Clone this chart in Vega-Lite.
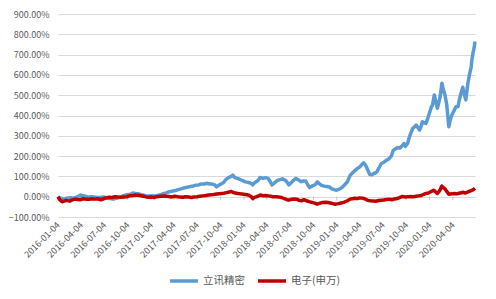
{
  "$schema": "https://vega.github.io/schema/vega-lite/v6.json",
  "width": 417,
  "height": 203,
  "autosize": "none",
  "padding": {"left": 58, "top": 14, "right": 21, "bottom": 82},
  "config": {
    "view": {"stroke": null},
    "font": "Noto Sans CJK SC",
    "axisX": {"labelOverlap": false, "labelFlush": false, "labelAngle": -45, "labelAlign": "right", "labelBaseline": "middle", "labelPadding": 6,
      "labelFontSize": 9, "labelColor": "#595959", "labelFont": "Noto Sans CJK SC", "domain": false, "ticks": false, "grid": false, "title": null, "format": "%Y-%m-%d"},
    "axisY": {"labelOverlap": false, "labelFlush": false, "grid": true, "gridColor": "#D9D9D9", "gridWidth": 1, "domain": false, "ticks": false,
      "labelPadding": 9, "labelFontSize": 9, "labelColor": "#595959", "labelFont": "Noto Sans CJK SC", "title": null, "format": ".2%"}
  },
  "resolve": {"axis": {"x": "independent", "y": "independent"}},
  "datasets": {
    "q": [{"d":"2016-01-04"},{"d":"2016-04-04"},{"d":"2016-07-04"},{"d":"2016-10-04"},{"d":"2017-01-04"},{"d":"2017-04-04"},{"d":"2017-07-04"},{"d":"2017-10-04"},{"d":"2018-01-04"},{"d":"2018-04-04"},{"d":"2018-07-04"},{"d":"2018-10-04"},{"d":"2019-01-04"},{"d":"2019-04-04"},{"d":"2019-07-04"},{"d":"2019-10-04"},{"d":"2020-01-04"},{"d":"2020-04-04"}],
    "s": [
{"d":"2016-01-04","s":"立讯精密","v":0},{"d":"2016-01-11","s":"立讯精密","v":-0.06},{"d":"2016-01-20","s":"立讯精密","v":-0.10},{"d":"2016-01-28","s":"立讯精密","v":-0.12},{"d":"2016-02-05","s":"立讯精密","v":-0.08},{"d":"2016-02-22","s":"立讯精密","v":-0.05},{"d":"2016-03-04","s":"立讯精密","v":-0.07},{"d":"2016-03-14","s":"立讯精密","v":-0.03},{"d":"2016-03-24","s":"立讯精密","v":0.02},{"d":"2016-03-31","s":"立讯精密","v":0.08},{"d":"2016-04-11","s":"立讯精密","v":0.05},{"d":"2016-04-20","s":"立讯精密","v":0.02},{"d":"2016-05-03","s":"立讯精密","v":-0.02},{"d":"2016-05-12","s":"立讯精密","v":0},{"d":"2016-05-25","s":"立讯精密","v":-0.02},{"d":"2016-06-06","s":"立讯精密","v":-0.04},{"d":"2016-06-20","s":"立讯精密","v":-0.03},{"d":"2016-07-01","s":"立讯精密","v":-0.01},{"d":"2016-07-11","s":"立讯精密","v":-0.05},{"d":"2016-07-25","s":"立讯精密","v":-0.09},{"d":"2016-08-08","s":"立讯精密","v":-0.12},{"d":"2016-08-19","s":"立讯精密","v":-0.08},{"d":"2016-08-29","s":"立讯精密","v":-0.05},{"d":"2016-09-09","s":"立讯精密","v":0},{"d":"2016-09-19","s":"立讯精密","v":0.05},{"d":"2016-09-30","s":"立讯精密","v":0.10},{"d":"2016-10-14","s":"立讯精密","v":0.12},{"d":"2016-10-24","s":"立讯精密","v":0.18},{"d":"2016-11-04","s":"立讯精密","v":0.16},{"d":"2016-11-14","s":"立讯精密","v":0.15},{"d":"2016-11-25","s":"立讯精密","v":0.10},{"d":"2016-12-05","s":"立讯精密","v":0.08},{"d":"2016-12-15","s":"立讯精密","v":0.04},{"d":"2016-12-26","s":"立讯精密","v":0.03},{"d":"2017-01-09","s":"立讯精密","v":0.05},{"d":"2017-01-20","s":"立讯精密","v":0.04},{"d":"2017-02-06","s":"立讯精密","v":0.08},{"d":"2017-02-17","s":"立讯精密","v":0.13},{"d":"2017-03-01","s":"立讯精密","v":0.17},{"d":"2017-03-10","s":"立讯精密","v":0.22},{"d":"2017-03-22","s":"立讯精密","v":0.26},{"d":"2017-03-31","s":"立讯精密","v":0.28},{"d":"2017-04-13","s":"立讯精密","v":0.32},{"d":"2017-04-24","s":"立讯精密","v":0.36},{"d":"2017-05-05","s":"立讯精密","v":0.40},{"d":"2017-05-16","s":"立讯精密","v":0.44},{"d":"2017-05-26","s":"立讯精密","v":0.47},{"d":"2017-06-08","s":"立讯精密","v":0.50},{"d":"2017-06-19","s":"立讯精密","v":0.53},{"d":"2017-06-29","s":"立讯精密","v":0.57},{"d":"2017-07-10","s":"立讯精密","v":0.58},{"d":"2017-07-20","s":"立讯精密","v":0.63},{"d":"2017-08-01","s":"立讯精密","v":0.62},{"d":"2017-08-10","s":"立讯精密","v":0.66},{"d":"2017-08-22","s":"立讯精密","v":0.63},{"d":"2017-09-01","s":"立讯精密","v":0.62},{"d":"2017-09-11","s":"立讯精密","v":0.58},{"d":"2017-09-18","s":"立讯精密","v":0.48},{"d":"2017-09-29","s":"立讯精密","v":0.58},{"d":"2017-10-16","s":"立讯精密","v":0.70},{"d":"2017-10-25","s":"立讯精密","v":0.85},{"d":"2017-11-06","s":"立讯精密","v":0.95},{"d":"2017-11-15","s":"立讯精密","v":1.00},{"d":"2017-11-21","s":"立讯精密","v":1.06},{"d":"2017-11-28","s":"立讯精密","v":0.95},{"d":"2017-12-08","s":"立讯精密","v":0.90},{"d":"2017-12-18","s":"立讯精密","v":0.86},{"d":"2017-12-28","s":"立讯精密","v":0.80},{"d":"2018-01-10","s":"立讯精密","v":0.73},{"d":"2018-01-22","s":"立讯精密","v":0.70},{"d":"2018-02-01","s":"立讯精密","v":0.66},{"d":"2018-02-07","s":"立讯精密","v":0.58},{"d":"2018-02-14","s":"立讯精密","v":0.68},{"d":"2018-02-28","s":"立讯精密","v":0.80},{"d":"2018-03-09","s":"立讯精密","v":0.95},{"d":"2018-03-20","s":"立讯精密","v":0.90},{"d":"2018-03-30","s":"立讯精密","v":0.94},{"d":"2018-04-09","s":"立讯精密","v":0.90},{"d":"2018-04-17","s":"立讯精密","v":0.75},{"d":"2018-04-24","s":"立讯精密","v":0.58},{"d":"2018-05-04","s":"立讯精密","v":0.68},{"d":"2018-05-15","s":"立讯精密","v":0.80},{"d":"2018-05-25","s":"立讯精密","v":0.84},{"d":"2018-06-04","s":"立讯精密","v":0.88},{"d":"2018-06-14","s":"立讯精密","v":0.82},{"d":"2018-06-22","s":"立讯精密","v":0.72},{"d":"2018-06-29","s":"立讯精密","v":0.58},{"d":"2018-07-09","s":"立讯精密","v":0.70},{"d":"2018-07-19","s":"立讯精密","v":0.82},{"d":"2018-07-27","s":"立讯精密","v":0.90},{"d":"2018-08-07","s":"立讯精密","v":0.82},{"d":"2018-08-17","s":"立讯精密","v":0.74},{"d":"2018-08-27","s":"立讯精密","v":0.78},{"d":"2018-09-04","s":"立讯精密","v":0.76},{"d":"2018-09-12","s":"立讯精密","v":0.58},{"d":"2018-09-19","s":"立讯精密","v":0.45},{"d":"2018-09-28","s":"立讯精密","v":0.52},{"d":"2018-10-12","s":"立讯精密","v":0.60},{"d":"2018-10-19","s":"立讯精密","v":0.73},{"d":"2018-10-29","s":"立讯精密","v":0.62},{"d":"2018-11-06","s":"立讯精密","v":0.55},{"d":"2018-11-16","s":"立讯精密","v":0.52},{"d":"2018-11-26","s":"立讯精密","v":0.50},{"d":"2018-12-06","s":"立讯精密","v":0.48},{"d":"2018-12-14","s":"立讯精密","v":0.40},{"d":"2018-12-24","s":"立讯精密","v":0.35},{"d":"2019-01-03","s":"立讯精密","v":0.32},{"d":"2019-01-14","s":"立讯精密","v":0.38},{"d":"2019-01-24","s":"立讯精密","v":0.45},{"d":"2019-02-01","s":"立讯精密","v":0.55},{"d":"2019-02-15","s":"立讯精密","v":0.75},{"d":"2019-02-25","s":"立讯精密","v":1.05},{"d":"2019-03-07","s":"立讯精密","v":1.18},{"d":"2019-03-15","s":"立讯精密","v":1.27},{"d":"2019-03-25","s":"立讯精密","v":1.38},{"d":"2019-04-04","s":"立讯精密","v":1.47},{"d":"2019-04-12","s":"立讯精密","v":1.58},{"d":"2019-04-19","s":"立讯精密","v":1.67},{"d":"2019-04-26","s":"立讯精密","v":1.58},{"d":"2019-05-06","s":"立讯精密","v":1.30},{"d":"2019-05-13","s":"立讯精密","v":1.10},{"d":"2019-05-22","s":"立讯精密","v":1.08},{"d":"2019-05-31","s":"立讯精密","v":1.15},{"d":"2019-06-10","s":"立讯精密","v":1.22},{"d":"2019-06-20","s":"立讯精密","v":1.45},{"d":"2019-06-27","s":"立讯精密","v":1.62},{"d":"2019-07-08","s":"立讯精密","v":1.70},{"d":"2019-07-16","s":"立讯精密","v":1.78},{"d":"2019-07-26","s":"立讯精密","v":1.85},{"d":"2019-08-06","s":"立讯精密","v":2.00},{"d":"2019-08-14","s":"立讯精密","v":2.29},{"d":"2019-08-23","s":"立讯精密","v":2.36},{"d":"2019-08-30","s":"立讯精密","v":2.42},{"d":"2019-09-09","s":"立讯精密","v":2.40},{"d":"2019-09-17","s":"立讯精密","v":2.50},{"d":"2019-09-25","s":"立讯精密","v":2.62},{"d":"2019-09-30","s":"立讯精密","v":2.48},{"d":"2019-10-10","s":"立讯精密","v":2.65},{"d":"2019-10-16","s":"立讯精密","v":2.94},{"d":"2019-10-24","s":"立讯精密","v":3.20},{"d":"2019-10-29","s":"立讯精密","v":3.36},{"d":"2019-11-06","s":"立讯精密","v":3.45},{"d":"2019-11-12","s":"立讯精密","v":3.53},{"d":"2019-11-19","s":"立讯精密","v":3.40},{"d":"2019-11-25","s":"立讯精密","v":3.28},{"d":"2019-12-02","s":"立讯精密","v":3.50},{"d":"2019-12-06","s":"立讯精密","v":3.69},{"d":"2019-12-13","s":"立讯精密","v":3.64},{"d":"2019-12-20","s":"立讯精密","v":3.61},{"d":"2019-12-27","s":"立讯精密","v":3.85},{"d":"2020-01-03","s":"立讯精密","v":4.12},{"d":"2020-01-10","s":"立讯精密","v":4.40},{"d":"2020-01-15","s":"立讯精密","v":4.52},{"d":"2020-01-22","s":"立讯精密","v":5.01},{"d":"2020-02-03","s":"立讯精密","v":4.35},{"d":"2020-02-10","s":"立讯精密","v":4.70},{"d":"2020-02-14","s":"立讯精密","v":4.93},{"d":"2020-02-21","s":"立讯精密","v":5.59},{"d":"2020-02-26","s":"立讯精密","v":5.30},{"d":"2020-03-04","s":"立讯精密","v":5.01},{"d":"2020-03-10","s":"立讯精密","v":4.60},{"d":"2020-03-13","s":"立讯精密","v":4.27},{"d":"2020-03-19","s":"立讯精密","v":3.45},{"d":"2020-03-24","s":"立讯精密","v":3.75},{"d":"2020-03-31","s":"立讯精密","v":4.02},{"d":"2020-04-09","s":"立讯精密","v":4.25},{"d":"2020-04-16","s":"立讯精密","v":4.43},{"d":"2020-04-24","s":"立讯精密","v":4.43},{"d":"2020-04-30","s":"立讯精密","v":4.80},{"d":"2020-05-08","s":"立讯精密","v":5.18},{"d":"2020-05-13","s":"立讯精密","v":5.39},{"d":"2020-05-20","s":"立讯精密","v":5.00},{"d":"2020-05-25","s":"立讯精密","v":4.77},{"d":"2020-06-02","s":"立讯精密","v":5.59},{"d":"2020-06-08","s":"立讯精密","v":6.00},{"d":"2020-06-15","s":"立讯精密","v":6.40},{"d":"2020-06-18","s":"立讯精密","v":6.75},{"d":"2020-06-22","s":"立讯精密","v":7.08},{"d":"2020-06-26","s":"立讯精密","v":7.30},{"d":"2020-06-30","s":"立讯精密","v":7.65},
{"d":"2016-01-04","s":"电子(申万)","v":0},{"d":"2016-01-11","s":"电子(申万)","v":-0.15},{"d":"2016-01-20","s":"电子(申万)","v":-0.25},{"d":"2016-01-28","s":"电子(申万)","v":-0.22},{"d":"2016-02-05","s":"电子(申万)","v":-0.18},{"d":"2016-02-19","s":"电子(申万)","v":-0.22},{"d":"2016-02-29","s":"电子(申万)","v":-0.16},{"d":"2016-03-10","s":"电子(申万)","v":-0.12},{"d":"2016-03-22","s":"电子(申万)","v":-0.14},{"d":"2016-03-31","s":"电子(申万)","v":-0.15},{"d":"2016-04-12","s":"电子(申万)","v":-0.10},{"d":"2016-04-22","s":"电子(申万)","v":-0.12},{"d":"2016-05-05","s":"电子(申万)","v":-0.13},{"d":"2016-05-16","s":"电子(申万)","v":-0.10},{"d":"2016-05-27","s":"电子(申万)","v":-0.12},{"d":"2016-06-08","s":"电子(申万)","v":-0.10},{"d":"2016-06-20","s":"电子(申万)","v":-0.15},{"d":"2016-07-01","s":"电子(申万)","v":-0.10},{"d":"2016-07-11","s":"电子(申万)","v":-0.06},{"d":"2016-07-22","s":"电子(申万)","v":-0.03},{"d":"2016-08-03","s":"电子(申万)","v":-0.04},{"d":"2016-08-15","s":"电子(申万)","v":0},{"d":"2016-08-26","s":"电子(申万)","v":-0.02},{"d":"2016-09-06","s":"电子(申万)","v":-0.03},{"d":"2016-09-19","s":"电子(申万)","v":-0.01},{"d":"2016-09-30","s":"电子(申万)","v":0},{"d":"2016-10-14","s":"电子(申万)","v":0.05},{"d":"2016-10-25","s":"电子(申万)","v":0.06},{"d":"2016-11-04","s":"电子(申万)","v":0.08},{"d":"2016-11-15","s":"电子(申万)","v":0.07},{"d":"2016-11-25","s":"电子(申万)","v":0.05},{"d":"2016-12-06","s":"电子(申万)","v":0.02},{"d":"2016-12-16","s":"电子(申万)","v":-0.01},{"d":"2016-12-27","s":"电子(申万)","v":-0.03},{"d":"2017-01-06","s":"电子(申万)","v":-0.02},{"d":"2017-01-16","s":"电子(申万)","v":-0.04},{"d":"2017-01-26","s":"电子(申万)","v":0},{"d":"2017-02-10","s":"电子(申万)","v":0.02},{"d":"2017-02-22","s":"电子(申万)","v":0.03},{"d":"2017-03-03","s":"电子(申万)","v":0.02},{"d":"2017-03-15","s":"电子(申万)","v":0.01},{"d":"2017-03-24","s":"电子(申万)","v":-0.01},{"d":"2017-04-07","s":"电子(申万)","v":0.02},{"d":"2017-04-18","s":"电子(申万)","v":0},{"d":"2017-04-28","s":"电子(申万)","v":-0.02},{"d":"2017-05-10","s":"电子(申万)","v":-0.03},{"d":"2017-05-19","s":"电子(申万)","v":0},{"d":"2017-06-01","s":"电子(申万)","v":-0.02},{"d":"2017-06-12","s":"电子(申万)","v":-0.04},{"d":"2017-06-22","s":"电子(申万)","v":-0.01},{"d":"2017-07-03","s":"电子(申万)","v":0},{"d":"2017-07-14","s":"电子(申万)","v":0.02},{"d":"2017-07-26","s":"电子(申万)","v":0.04},{"d":"2017-08-07","s":"电子(申万)","v":0.06},{"d":"2017-08-17","s":"电子(申万)","v":0.08},{"d":"2017-08-28","s":"电子(申万)","v":0.10},{"d":"2017-09-07","s":"电子(申万)","v":0.11},{"d":"2017-09-18","s":"电子(申万)","v":0.13},{"d":"2017-09-29","s":"电子(申万)","v":0.15},{"d":"2017-10-17","s":"电子(申万)","v":0.17},{"d":"2017-10-27","s":"电子(申万)","v":0.20},{"d":"2017-11-07","s":"电子(申万)","v":0.23},{"d":"2017-11-14","s":"电子(申万)","v":0.26},{"d":"2017-11-21","s":"电子(申万)","v":0.22},{"d":"2017-11-30","s":"电子(申万)","v":0.18},{"d":"2017-12-11","s":"电子(申万)","v":0.16},{"d":"2017-12-21","s":"电子(申万)","v":0.14},{"d":"2018-01-02","s":"电子(申万)","v":0.12},{"d":"2018-01-15","s":"电子(申万)","v":0.10},{"d":"2018-01-25","s":"电子(申万)","v":0.06},{"d":"2018-02-02","s":"电子(申万)","v":0},{"d":"2018-02-08","s":"电子(申万)","v":-0.10},{"d":"2018-02-14","s":"电子(申万)","v":-0.03},{"d":"2018-02-28","s":"电子(申万)","v":0.02},{"d":"2018-03-09","s":"电子(申万)","v":0.08},{"d":"2018-03-20","s":"电子(申万)","v":0.05},{"d":"2018-03-30","s":"电子(申万)","v":0.06},{"d":"2018-04-10","s":"电子(申万)","v":0.04},{"d":"2018-04-20","s":"电子(申万)","v":0.02},{"d":"2018-04-27","s":"电子(申万)","v":0},{"d":"2018-05-10","s":"电子(申万)","v":0},{"d":"2018-05-22","s":"电子(申万)","v":-0.02},{"d":"2018-06-01","s":"电子(申万)","v":-0.04},{"d":"2018-06-12","s":"电子(申万)","v":-0.10},{"d":"2018-06-22","s":"电子(申万)","v":-0.15},{"d":"2018-06-29","s":"电子(申万)","v":-0.17},{"d":"2018-07-10","s":"电子(申万)","v":-0.13},{"d":"2018-07-20","s":"电子(申万)","v":-0.11},{"d":"2018-07-30","s":"电子(申万)","v":-0.12},{"d":"2018-08-09","s":"电子(申万)","v":-0.18},{"d":"2018-08-17","s":"电子(申万)","v":-0.20},{"d":"2018-08-28","s":"电子(申万)","v":-0.15},{"d":"2018-09-07","s":"电子(申万)","v":-0.20},{"d":"2018-09-17","s":"电子(申万)","v":-0.24},{"d":"2018-09-28","s":"电子(申万)","v":-0.28},{"d":"2018-10-12","s":"电子(申万)","v":-0.33},{"d":"2018-10-19","s":"电子(申万)","v":-0.37},{"d":"2018-10-30","s":"电子(申万)","v":-0.32},{"d":"2018-11-09","s":"电子(申万)","v":-0.28},{"d":"2018-11-20","s":"电子(申万)","v":-0.27},{"d":"2018-11-30","s":"电子(申万)","v":-0.29},{"d":"2018-12-10","s":"电子(申万)","v":-0.31},{"d":"2018-12-20","s":"电子(申万)","v":-0.34},{"d":"2018-12-28","s":"电子(申万)","v":-0.37},{"d":"2019-01-10","s":"电子(申万)","v":-0.34},{"d":"2019-01-21","s":"电子(申万)","v":-0.31},{"d":"2019-01-31","s":"电子(申万)","v":-0.28},{"d":"2019-02-15","s":"电子(申万)","v":-0.20},{"d":"2019-02-25","s":"电子(申万)","v":-0.12},{"d":"2019-03-06","s":"电子(申万)","v":-0.10},{"d":"2019-03-15","s":"电子(申万)","v":-0.08},{"d":"2019-03-26","s":"电子(申万)","v":-0.09},{"d":"2019-04-04","s":"电子(申万)","v":-0.06},{"d":"2019-04-15","s":"电子(申万)","v":-0.07},{"d":"2019-04-23","s":"电子(申万)","v":-0.10},{"d":"2019-05-06","s":"电子(申万)","v":-0.18},{"d":"2019-05-16","s":"电子(申万)","v":-0.20},{"d":"2019-05-27","s":"电子(申万)","v":-0.21},{"d":"2019-06-06","s":"电子(申万)","v":-0.22},{"d":"2019-06-17","s":"电子(申万)","v":-0.19},{"d":"2019-06-27","s":"电子(申万)","v":-0.17},{"d":"2019-07-08","s":"电子(申万)","v":-0.16},{"d":"2019-07-18","s":"电子(申万)","v":-0.14},{"d":"2019-07-29","s":"电子(申万)","v":-0.12},{"d":"2019-08-08","s":"电子(申万)","v":-0.15},{"d":"2019-08-19","s":"电子(申万)","v":-0.11},{"d":"2019-08-29","s":"电子(申万)","v":-0.09},{"d":"2019-09-09","s":"电子(申万)","v":-0.03},{"d":"2019-09-19","s":"电子(申万)","v":0.01},{"d":"2019-09-27","s":"电子(申万)","v":-0.01},{"d":"2019-10-11","s":"电子(申万)","v":0},{"d":"2019-10-22","s":"电子(申万)","v":0.01},{"d":"2019-11-01","s":"电子(申万)","v":0},{"d":"2019-11-11","s":"电子(申万)","v":0.02},{"d":"2019-11-21","s":"电子(申万)","v":0.04},{"d":"2019-12-02","s":"电子(申万)","v":0.06},{"d":"2019-12-12","s":"电子(申万)","v":0.12},{"d":"2019-12-20","s":"电子(申万)","v":0.16},{"d":"2019-12-30","s":"电子(申万)","v":0.18},{"d":"2020-01-08","s":"电子(申万)","v":0.24},{"d":"2020-01-14","s":"电子(申万)","v":0.28},{"d":"2020-01-20","s":"电子(申万)","v":0.32},{"d":"2020-02-03","s":"电子(申万)","v":0.16},{"d":"2020-02-10","s":"电子(申万)","v":0.26},{"d":"2020-02-14","s":"电子(申万)","v":0.35},{"d":"2020-02-21","s":"电子(申万)","v":0.52},{"d":"2020-02-26","s":"电子(申万)","v":0.45},{"d":"2020-03-04","s":"电子(申万)","v":0.38},{"d":"2020-03-10","s":"电子(申万)","v":0.28},{"d":"2020-03-19","s":"电子(申万)","v":0.12},{"d":"2020-03-25","s":"电子(申万)","v":0.13},{"d":"2020-03-31","s":"电子(申万)","v":0.14},{"d":"2020-04-10","s":"电子(申万)","v":0.16},{"d":"2020-04-20","s":"电子(申万)","v":0.14},{"d":"2020-04-28","s":"电子(申万)","v":0.17},{"d":"2020-05-08","s":"电子(申万)","v":0.19},{"d":"2020-05-15","s":"电子(申万)","v":0.22},{"d":"2020-05-22","s":"电子(申万)","v":0.18},{"d":"2020-05-29","s":"电子(申万)","v":0.21},{"d":"2020-06-05","s":"电子(申万)","v":0.26},{"d":"2020-06-12","s":"电子(申万)","v":0.28},{"d":"2020-06-19","s":"电子(申万)","v":0.32},{"d":"2020-06-26","s":"电子(申万)","v":0.37},{"d":"2020-06-30","s":"电子(申万)","v":0.41}
    ]
  },
  "layer": [
    {
      "data": {"name": "q"},
      "mark": {"type": "rule", "color": "#BFBFBF", "strokeWidth": 1},
      "encoding": {
        "x": {"field": "d", "type": "temporal", "scale": {"type": "utc", "domain": [{"year": 2016, "month": 1, "date": 4, "utc": true}, {"year": 2020, "month": 6, "date": 30, "utc": true}]},
          "axis": {"values": [
            {"year":2016,"month":1,"date":4,"utc":true},{"year":2016,"month":4,"date":4,"utc":true},{"year":2016,"month":7,"date":4,"utc":true},{"year":2016,"month":10,"date":4,"utc":true},
            {"year":2017,"month":1,"date":4,"utc":true},{"year":2017,"month":4,"date":4,"utc":true},{"year":2017,"month":7,"date":4,"utc":true},{"year":2017,"month":10,"date":4,"utc":true},
            {"year":2018,"month":1,"date":4,"utc":true},{"year":2018,"month":4,"date":4,"utc":true},{"year":2018,"month":7,"date":4,"utc":true},{"year":2018,"month":10,"date":4,"utc":true},
            {"year":2019,"month":1,"date":4,"utc":true},{"year":2019,"month":4,"date":4,"utc":true},{"year":2019,"month":7,"date":4,"utc":true},{"year":2019,"month":10,"date":4,"utc":true},
            {"year":2020,"month":1,"date":4,"utc":true},{"year":2020,"month":4,"date":4,"utc":true}], "labelOverlap": false, "labelFlush": false}},
        "y": {"datum": 0, "type": "quantitative", "scale": {"domain": [-1, 9], "nice": false},
          "axis": {"values": [-1, 0, 1, 2, 3, 4, 5, 6, 7, 8, 9], "labelOverlap": false}},
        "y2": {"datum": -0.15}
      }
    },
    {
      "data": {"name": "s"},
      "transform": [{"filter": "datum.s === '立讯精密'"}],
      "mark": {"type": "line", "strokeWidth": 3.5, "strokeJoin": "round"},
      "encoding": {
        "x": {"field": "d", "type": "temporal", "axis": null},
        "y": {"field": "v", "type": "quantitative", "axis": null},
        "color": {"field": "s", "type": "nominal",
          "scale": {"domain": ["立讯精密", "电子(申万)"], "range": ["#5B9BD5", "#C00000"]},
          "legend": {"orient": "none", "legendX": 110, "legendY": 251, "direction": "horizontal", "title": null,
            "symbolType": "stroke", "symbolStrokeWidth": 3.5, "symbolSize": 784, "labelFontSize": 10.5, "labelColor": "#595959",
            "labelFont": "Noto Sans CJK SC", "columnPadding": 6, "labelOffset": 3}}
      }
    },
    {
      "data": {"name": "s"},
      "transform": [{"filter": "datum.s === '电子(申万)'"}],
      "mark": {"type": "line", "strokeWidth": 3.5, "strokeJoin": "round"},
      "encoding": {
        "x": {"field": "d", "type": "temporal", "axis": null},
        "y": {"field": "v", "type": "quantitative", "axis": null},
        "color": {"field": "s", "type": "nominal"}
      }
    }
  ]
}
